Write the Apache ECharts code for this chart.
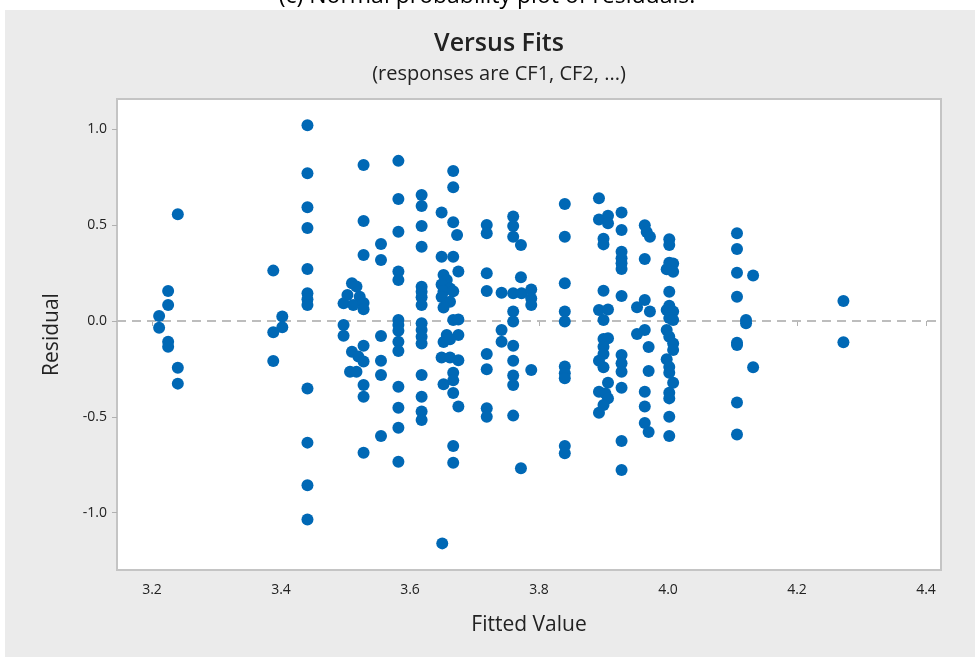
<!DOCTYPE html>
<html>
<head>
<meta charset="utf-8">
<script src="https://cdn.jsdelivr.net/npm/echarts@6/dist/echarts.min.js"></script>
<style>
  html, body { margin: 0; padding: 0; background: #fff; }
  #main { width: 975px; height: 657px; }
</style>
</head>
<body>
<div id="main"></div>
<script>
// fitted values / residuals
const fits = [
  3.240, 3.225, 3.225, 3.211, 3.211, 3.225, 3.225, 3.240, 3.240,
  3.388, 3.402, 3.402, 3.388, 3.388,
  3.441, 3.441, 3.441, 3.441, 3.441, 3.441, 3.441, 3.441, 3.441, 3.441, 3.441, 3.441,
  3.528, 3.528, 3.528, 3.510, 3.517, 3.503, 3.522, 3.497, 3.512, 3.528, 3.528, 3.497, 3.497, 3.528, 3.510, 3.520, 3.528, 3.507, 3.517, 3.528, 3.528, 3.528,
  3.555, 3.555, 3.555, 3.555, 3.555, 3.555,
  3.582, 3.582, 3.582, 3.582, 3.582, 3.582, 3.582, 3.582, 3.582, 3.582, 3.582, 3.582, 3.582, 3.582,
  3.618, 3.618, 3.618, 3.618, 3.618, 3.618, 3.618, 3.618, 3.618, 3.618, 3.618, 3.618, 3.618, 3.618, 3.618, 3.618,
  3.667, 3.667, 3.649, 3.667, 3.673, 3.649, 3.667, 3.675, 3.652, 3.657, 3.649, 3.662, 3.652, 3.667, 3.649, 3.662, 3.652,
  3.667, 3.675, 3.657, 3.675, 3.652, 3.662, 3.649, 3.662, 3.675, 3.667, 3.652, 3.667, 3.667, 3.675, 3.667, 3.667, 3.650,
  3.719, 3.719, 3.719, 3.719, 3.719, 3.719, 3.719, 3.719,
  3.742, 3.742, 3.742,
  3.760, 3.760, 3.760, 3.772, 3.772, 3.760, 3.773, 3.788, 3.788, 3.788, 3.760, 3.760, 3.760, 3.760, 3.788, 3.760, 3.760, 3.760, 3.772,
  3.840, 3.840, 3.840, 3.840, 3.840, 3.840, 3.840, 3.840, 3.840, 3.840,
  3.893, 3.893, 3.907, 3.907, 3.900, 3.900, 3.900, 3.893, 3.907, 3.900, 3.900, 3.907, 3.900, 3.900, 3.893, 3.900, 3.907, 3.893, 3.903, 3.907, 3.900, 3.893,
  3.928, 3.928, 3.928, 3.928, 3.928, 3.928, 3.928, 3.928, 3.928, 3.928, 3.928, 3.928, 3.928,
  3.964, 3.967, 3.972, 3.964, 3.964, 3.952, 3.972, 3.952, 3.964, 3.970, 3.970, 3.964, 3.964, 3.964, 3.970,
  4.002, 4.002, 4.002, 4.008, 3.998, 4.008, 4.002, 4.002, 3.998, 4.008, 4.002, 4.008, 3.998, 4.002, 4.008, 4.008, 3.998, 4.002, 4.002, 4.008, 4.002, 4.002, 4.002, 4.002,
  4.107, 4.107, 4.107, 4.107, 4.107, 4.107, 4.107, 4.107,
  4.121, 4.121,
  4.132, 4.132,
  4.272, 4.272
];
const residuals = [
  0.557, 0.157, 0.084, 0.026, -0.035, -0.108, -0.134, -0.244, -0.327,
  0.263, 0.024, -0.033, -0.059, -0.209,
  1.022, 0.771, 0.594, 0.486, 0.272, 0.145, 0.113, 0.084, -0.353, -0.635, -0.858, -1.036,
  0.815, 0.522, 0.345, 0.197, 0.180, 0.136, 0.127, 0.092, 0.084, 0.094, 0.061, -0.021, -0.077, -0.129, -0.160, -0.186, -0.212, -0.265, -0.265, -0.334, -0.395, -0.688,
  0.402, 0.319, -0.078, -0.207, -0.282, -0.600,
  0.836, 0.637, 0.466, 0.258, 0.214, 0.005, -0.021, -0.051, -0.108, -0.157, -0.343, -0.453, -0.557, -0.735,
  0.658, 0.600, 0.496, 0.388, 0.179, 0.153, 0.124, 0.084, -0.012, -0.047, -0.082, -0.117, -0.282, -0.395, -0.473, -0.517,
  0.783, 0.698, 0.567, 0.515, 0.449, 0.336, 0.336, 0.258, 0.240, 0.214, 0.190, 0.170, 0.155, 0.155, 0.125, 0.100, 0.070,
  0.005, 0.008, -0.073, -0.073, -0.110, -0.095, -0.190, -0.190, -0.205, -0.270, -0.330, -0.310, -0.376, -0.447, -0.653, -0.740, -1.161,
  0.501, 0.458, 0.249, 0.157, -0.172, -0.252, -0.456, -0.500,
  0.148, -0.047, -0.108,
  0.545, 0.496, 0.440, 0.397, 0.228, 0.145, 0.145, 0.165, 0.118, 0.084, 0.049, -0.003, -0.129, -0.207, -0.256, -0.285, -0.334, -0.494, -0.769,
  0.611, 0.440, 0.197, 0.049, -0.003, -0.238, -0.273, -0.299, -0.653, -0.691,
  0.641, 0.530, 0.550, 0.510, 0.430, 0.400, 0.158, 0.057, 0.060, 0.005, -0.094, -0.090, -0.134, -0.172, -0.207, -0.242, -0.322, -0.370, -0.378, -0.404, -0.439, -0.479,
  0.566, 0.475, 0.362, 0.327, 0.301, 0.272, 0.131, -0.178, -0.221, -0.265, -0.348, -0.627, -0.778,
  0.500, 0.465, 0.440, 0.324, 0.110, 0.072, 0.050, -0.068, -0.047, -0.136, -0.261, -0.369, -0.447, -0.533, -0.580,
  0.427, 0.397, 0.304, 0.300, 0.270, 0.257, 0.153, 0.080, 0.058, 0.050, 0.015, 0.005, -0.047, -0.082, -0.117, -0.152, -0.200, -0.240, -0.270, -0.322, -0.374, -0.404, -0.500, -0.600,
  0.458, 0.376, 0.252, 0.127, -0.113, -0.125, -0.425, -0.592,
  0.005, -0.012,
  0.237, -0.242,
  0.104, -0.111
];
const xTicks = [3.2, 3.4, 3.6, 3.8, 4.0, 4.2, 4.4];
const yTicks = [-1.0, -0.5, 0.0, 0.5, 1.0];

const points = fits.map((f, i) => [f, residuals[i]]);

const chart = echarts.init(document.getElementById('main'));
const font = '"Open Sans", "Noto Sans", sans-serif';

const option = {
  backgroundColor: '#ffffff',
  animation: false,
  graphic: [
    {
      type: 'rect',
      shape: { x: 5, y: 10, width: 975, height: 660 },
      style: { fill: '#ebebeb' },
      z: -10
    },
    {
      // caption of the figure above, cut off by the page top
      type: 'text',
      x: 487, y: -15,
      style: {
        text: '(c) Normal probability plot of residuals.',
        font: '23px ' + font,
        fill: '#000',
        textAlign: 'center'
      },
      z: -5
    }
  ],
  title: {
    text: 'Versus Fits',
    subtext: '(responses are CF1, CF2, ...)',
    left: 494,
    textAlign: 'center',
    top: 26,
    itemGap: 8,
    textStyle: { fontFamily: font, fontSize: 25, fontWeight: 600, color: '#222' },
    subtextStyle: { fontFamily: font, fontSize: 20, color: '#222' }
  },
  grid: {
    left: 117, right: 34, top: 99, bottom: 87,
    show: true,
    backgroundColor: '#ffffff',
    borderColor: '#c4c4c4',
    borderWidth: 2
  },
  xAxis: {
    type: 'value',
    min: 3.1457,
    max: 4.4233,
    name: 'Fitted Value',
    nameLocation: 'middle',
    nameGap: 45,
    nameTextStyle: { fontFamily: font, fontSize: 21, color: '#222' },
    axisLine: { show: false },
    splitLine: { show: false },
    axisTick: { show: true, length: 5, lineStyle: { color: '#b0b0b0' }, customValues: xTicks },
    axisLabel: {
      fontFamily: font, fontSize: 14, color: '#222', margin: 13,
      customValues: xTicks,
      formatter: v => v.toFixed(1)
    }
  },
  yAxis: {
    type: 'value',
    min: -1.300,
    max: 1.159,
    name: 'Residual',
    nameLocation: 'middle',
    nameGap: 54,
    nameTextStyle: { fontFamily: font, fontSize: 21, color: '#222' },
    axisLine: { show: false },
    splitLine: { show: false },
    axisTick: { show: true, length: 5, lineStyle: { color: '#b0b0b0' }, customValues: yTicks },
    axisLabel: {
      fontFamily: font, fontSize: 14, color: '#222', margin: 10,
      customValues: yTicks,
      formatter: v => v.toFixed(1)
    }
  },
  series: [
    {
      type: 'scatter',
      data: points,
      symbol: 'circle',
      symbolSize: 12,
      itemStyle: { color: '#0068b5', opacity: 1 },
      markLine: {
        silent: true,
        symbol: 'none',
        label: { show: false },
        lineStyle: { color: '#bdbdbd', type: [9, 6], width: 2 },
        data: [{ yAxis: 0 }],
        z: 1
      },
      z: 3
    }
  ]
};

chart.setOption(option);
</script>
</body>
</html>
